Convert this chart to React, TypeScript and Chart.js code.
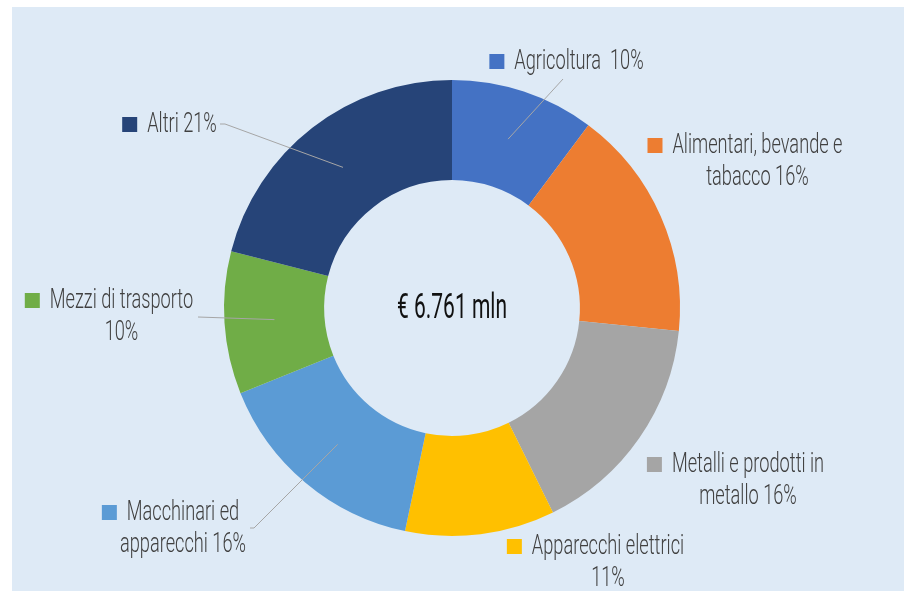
import React, { useEffect, useRef } from "react";
import { Chart, registerables } from "chart.js";

Chart.register(...registerables);

// ---- data (€ mln, total 6.761) ----
const categories = [
  "Agricoltura ",
  "Alimentari, bevande e tabacco",
  "Metalli e prodotti in metallo",
  "Apparecchi elettrici",
  "Macchinari ed apparecchi",
  "Mezzi di trasporto",
  "Altri",
];
const values = [690, 1109, 1088, 717, 1055, 683, 1419];
const colors = ["#4472C4", "#ED7D31", "#A5A5A5", "#FFC000", "#5B9BD5", "#70AD47", "#264478"];
const centerText = "€ 6.761 mln";

// ---- label layout (text centre x, first baseline y, words on first line, optional leader start) ----
const labelLayout = [
  { cx: 579, by: 69, firstWords: 0, leader: [[563, 79]] },
  { cx: 757.5, by: 153, firstWords: 3, leader: null },
  { cx: 748, by: 472, firstWords: 4, leader: null },
  { cx: 608, by: 554, firstWords: 2, leader: null },
  { cx: 183, by: 520, firstWords: 2, leader: [[250, 528], [254, 528]] },
  { cx: 121.5, by: 308, firstWords: 3, leader: [[198, 317]] },
  { cx: 182, by: 132, firstWords: 0, leader: [[220, 124], [225, 124]] },
];

const LABEL_FONT = "300 28px Roboto";
const LABEL_SX = 0.65;
const LINE_H = 32;

const panelPlugin = {
  id: "panel",
  beforeDraw(chart: any) {
    const ctx = chart.ctx;
    ctx.save();
    ctx.fillStyle = "#ffffff";
    ctx.fillRect(0, 0, chart.width, chart.height);
    ctx.fillStyle = "#DEEAF6";
    ctx.fillRect(12, 7, chart.width - 12, chart.height - 7);
    ctx.restore();
  },
};

const labelsPlugin = {
  id: "sliceLabels",
  afterDatasetsDraw(chart: any) {
    const ctx = chart.ctx;
    const meta = chart.getDatasetMeta(0);
    const total = values.reduce((a, b) => a + b, 0);
    ctx.save();
    // leader lines
    ctx.strokeStyle = "#A6A6A6";
    ctx.lineWidth = 1;
    meta.data.forEach((arc: any, i: number) => {
      const lay = labelLayout[i];
      if (!lay.leader) return;
      const p = arc.tooltipPosition();
      ctx.beginPath();
      ctx.moveTo(lay.leader[0][0], lay.leader[0][1]);
      for (let k = 1; k < lay.leader.length; k++) ctx.lineTo(lay.leader[k][0], lay.leader[k][1]);
      ctx.lineTo(p.x, p.y);
      ctx.stroke();
    });
    // texts
    ctx.font = LABEL_FONT;
    ctx.textBaseline = "alphabetic";
    ctx.textAlign = "center";
    categories.forEach((cat, i) => {
      const lay = labelLayout[i];
      const pct = Math.round((values[i] / total) * 100);
      const full = `${cat} ${pct}%`;
      let lines: string[];
      if (lay.firstWords > 0) {
        const words = full.split(" ");
        lines = [words.slice(0, lay.firstWords).join(" "), words.slice(lay.firstWords).join(" ")];
      } else {
        lines = [full];
      }
      ctx.fillStyle = "#404040";
      lines.forEach((ln, k) => {
        ctx.save();
        ctx.translate(lay.cx, lay.by + k * LINE_H);
        ctx.scale(LABEL_SX, 1);
        ctx.fillText(ln, 0, 0);
        ctx.restore();
      });
      const w1 = ctx.measureText(lines[0]).width * LABEL_SX;
      const kx = lay.cx - w1 / 2 - 10 - 15;
      ctx.fillStyle = colors[i];
      ctx.fillRect(kx, lay.by - 15, 15, 15);
    });
    // centre text
    const c = meta.data[0];
    ctx.font = "400 35px Roboto";
    ctx.fillStyle = "#111111";
    ctx.save();
    ctx.translate(c.x, c.y + 10);
    ctx.scale(0.6, 1);
    ctx.fillText(centerText, 0, 0);
    ctx.restore();
    ctx.restore();
  },
};

export default function App() {
  const ref = useRef<HTMLCanvasElement>(null);
  useEffect(() => {
    if (!ref.current) return;
    const chart = new Chart(ref.current, {
      type: "doughnut",
      data: {
        labels: categories,
        datasets: [
          {
            data: values,
            backgroundColor: colors,
            borderWidth: 0,
          },
        ],
      },
      options: {
        animation: false,
        responsive: false,
        cutout: "56.1%",
        layout: { padding: { top: 80, bottom: 55, left: 224, right: 224 } },
        plugins: {
          legend: { display: false },
          tooltip: { enabled: false },
        },
      },
      plugins: [panelPlugin, labelsPlugin],
    });
    return () => chart.destroy();
  }, []);
  return (
    <div style={{ position: "fixed", left: 0, top: 0, width: 904, height: 591 }}>
      <canvas ref={ref} width={904} height={591} style={{ width: 904, height: 591, display: "block" }} />
    </div>
  );
}
